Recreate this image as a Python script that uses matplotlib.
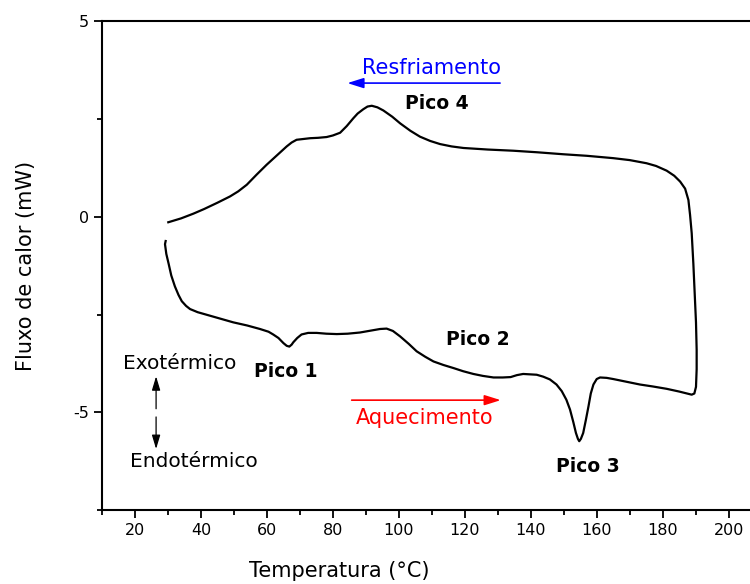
import matplotlib
matplotlib.use("Agg")
import matplotlib.pyplot as plt
from matplotlib.ticker import MultipleLocator

plt.rcParams["axes.unicode_minus"] = False

# DSC loop: heating 30 -> 190 °C, then cooling 190 -> 30 °C
temp = [29.3, 29.1, 29.5, 30.2, 31.0, 32.1, 33.2, 34.2, 35.5, 36.7, 39.0, 42.7, 46.0, 49.8, 54.0,
        57.9, 60.5, 61.9, 63.5, 65.0, 66.0, 66.8, 67.5, 68.0, 69.2, 70.5, 72.5, 75.1, 78.0, 81.2,
        84.5, 88.2, 91.5, 94.3, 96.3, 98.2, 100.4, 103.0, 105.4, 108.0, 110.5, 113.5, 116.6, 119.5,
        122.6, 125.5, 128.7, 131.5, 133.9, 135.8, 137.7, 140.0, 141.8, 143.8, 145.8, 147.8, 149.4,
        150.8, 151.9, 152.9, 153.7, 154.3, 154.7, 155.2, 155.9, 156.7, 157.5, 158.2, 159.0, 160.0,
        161.0, 163.0, 165.0, 169.0, 173.1, 177.0, 181.2, 185.0, 188.8, 189.6, 190.1, 190.3, 190.3,
        190.1, 189.8, 189.3, 188.8, 188.3, 187.8, 186.8, 185.3, 183.5, 181.2, 178.0, 175.1, 170.0,
        165.0, 157.0, 149.8, 142.0, 134.7, 127.0, 119.6, 116.0, 112.5, 109.5, 106.4, 103.5, 100.4,
        98.0, 95.3, 93.5, 91.8, 90.5, 89.2, 87.5, 86.2, 84.2, 82.2, 80.0, 78.1, 75.5, 73.1, 71.0,
        69.0, 67.5, 66.0, 63.0, 59.9, 56.9, 53.9, 51.3, 48.8, 45.0, 41.0, 37.7, 34.0, 30.1]
flux = [-0.62, -0.70, -0.95, -1.20, -1.50, -1.78, -2.00, -2.16, -2.28, -2.36, -2.44, -2.53, -2.61,
        -2.70, -2.78, -2.87, -2.94, -3.01, -3.10, -3.23, -3.30, -3.32, -3.27, -3.21, -3.10, -3.01,
        -2.97, -2.97, -2.99, -3.00, -2.99, -2.96, -2.91, -2.87, -2.86, -2.92, -3.06, -3.25, -3.44,
        -3.58, -3.70, -3.79, -3.87, -3.95, -4.02, -4.07, -4.11, -4.11, -4.10, -4.05, -4.02, -4.03,
        -4.04, -4.09, -4.16, -4.29, -4.46, -4.68, -4.93, -5.25, -5.53, -5.68, -5.74, -5.68, -5.53,
        -5.20, -4.85, -4.52, -4.29, -4.15, -4.11, -4.12, -4.15, -4.22, -4.29, -4.34, -4.40, -4.47,
        -4.55, -4.52, -4.35, -3.90, -3.40, -2.70, -2.12, -1.20, -0.42, 0.05, 0.43, 0.72, 0.90, 1.05,
        1.18, 1.30, 1.37, 1.45, 1.50, 1.56, 1.60, 1.65, 1.69, 1.72, 1.76, 1.80, 1.86, 1.94, 2.05,
        2.20, 2.39, 2.56, 2.72, 2.80, 2.84, 2.82, 2.75, 2.64, 2.52, 2.32, 2.15, 2.08, 2.04, 2.02,
        2.01, 1.99, 1.97, 1.90, 1.80, 1.57, 1.33, 1.08, 0.82, 0.65, 0.52, 0.36, 0.20, 0.08, -0.04,
        -0.14]

peak_labels = ["Pico 1", "Pico 2", "Pico 3", "Pico 4"]
peak_x = [65.6, 123.9, 157.2, 111.6]
peak_y = [-3.95, -3.14, -6.38, 2.90]

fig = plt.figure(figsize=(7.5, 5.84), dpi=100)
ax = fig.add_axes([0.136, 0.1267, 0.8795, 0.8368])
ax.plot(temp, flux, color="black", lw=1.6)

ax.set_xlim(10, 210)
ax.set_ylim(-7.5, 5)
ax.xaxis.set_major_locator(MultipleLocator(20))
ax.xaxis.set_minor_locator(MultipleLocator(10))
ax.yaxis.set_major_locator(MultipleLocator(5))
ax.yaxis.set_minor_locator(MultipleLocator(2.5))
ax.set_xticks(range(20, 201, 20))
ax.tick_params(which="major", direction="out", length=6, width=1.3, labelsize=11.5)
ax.tick_params(which="minor", direction="out", length=3.5, width=1.3)
for s in ["left", "bottom", "top"]:
    ax.spines[s].set_linewidth(1.5)
ax.spines["right"].set_visible(False)

ax.set_xlabel("Temperatura (°C)", fontsize=15)
ax.set_ylabel("Fluxo de calor (mW)", fontsize=15)
ax.xaxis.set_label_coords(0.36, -0.105)
ax.yaxis.set_label_coords(-0.10, 0.5)

for lab, x, y in zip(peak_labels, peak_x, peak_y):
    ax.text(x, y, lab, fontsize=13.5, fontweight="bold", ha="center", va="center")

# heating / cooling directions
ax.annotate("", xy=(84.4, 3.42), xytext=(130.7, 3.42),
            arrowprops=dict(arrowstyle="-|>,head_length=0.7,head_width=0.22", color="blue", lw=1.2,
                            shrinkA=0, shrinkB=0, mutation_scale=14))
ax.text(109.8, 3.81, "Resfriamento", color="blue", fontsize=15, ha="center", va="center")
ax.annotate("", xy=(130.9, -4.69), xytext=(85.7, -4.69),
            arrowprops=dict(arrowstyle="-|>,head_length=0.7,head_width=0.22", color="red", lw=1.2,
                            shrinkA=0, shrinkB=0, mutation_scale=14))
ax.text(107.9, -5.14, "Aquecimento", color="red", fontsize=15, ha="center", va="center")

# exo / endo indicator
ax.text(33.7, -3.74, "Exotérmico", fontsize=14.5, ha="center", va="center")
ax.text(37.8, -6.25, "Endotérmico", fontsize=14.5, ha="center", va="center")
ax.annotate("", xy=(26.4, -4.08), xytext=(26.4, -4.91),
            arrowprops=dict(arrowstyle="-|>,head_length=0.6,head_width=0.18", color="black", lw=0.9,
                            shrinkA=0, shrinkB=0, mutation_scale=14))
ax.annotate("", xy=(26.4, -5.94), xytext=(26.4, -5.12),
            arrowprops=dict(arrowstyle="-|>,head_length=0.6,head_width=0.18", color="black", lw=0.9,
                            shrinkA=0, shrinkB=0, mutation_scale=14))

fig.savefig("out.png", dpi=100)
